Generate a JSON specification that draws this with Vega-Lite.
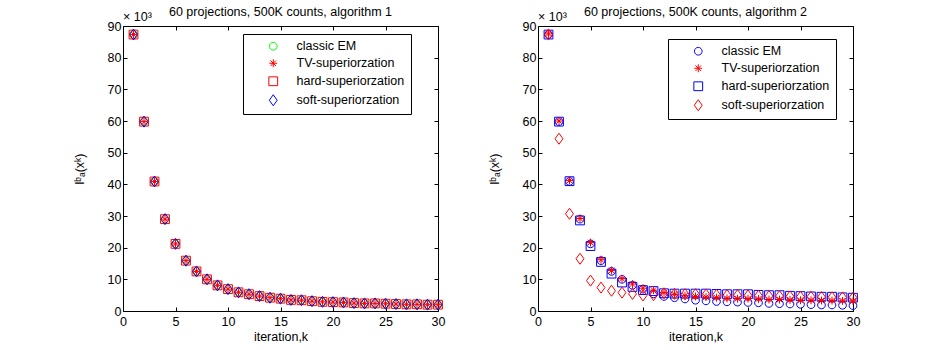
{
  "$schema": "https://vega.github.io/schema/vega-lite/v6.json",
  "background": "white",
  "padding": {"left": 72, "top": 5, "right": 5, "bottom": 5},
  "datasets": {
    "a1": [
      {"k":1,"s":"classic EM","v":87.3},{"k":2,"s":"classic EM","v":59.8},{"k":3,"s":"classic EM","v":40.9},{"k":4,"s":"classic EM","v":29.0},{"k":5,"s":"classic EM","v":21.2},{"k":6,"s":"classic EM","v":15.9},{"k":7,"s":"classic EM","v":12.5},{"k":8,"s":"classic EM","v":10.0},{"k":9,"s":"classic EM","v":8.1},{"k":10,"s":"classic EM","v":6.9},{"k":11,"s":"classic EM","v":5.9},{"k":12,"s":"classic EM","v":5.3},{"k":13,"s":"classic EM","v":4.7},{"k":14,"s":"classic EM","v":4.2},{"k":15,"s":"classic EM","v":3.9},{"k":16,"s":"classic EM","v":3.5},{"k":17,"s":"classic EM","v":3.4},{"k":18,"s":"classic EM","v":3.1},{"k":19,"s":"classic EM","v":2.9},{"k":20,"s":"classic EM","v":2.8},{"k":21,"s":"classic EM","v":2.7},{"k":22,"s":"classic EM","v":2.5},{"k":23,"s":"classic EM","v":2.4},{"k":24,"s":"classic EM","v":2.4},{"k":25,"s":"classic EM","v":2.3},{"k":26,"s":"classic EM","v":2.2},{"k":27,"s":"classic EM","v":2.1},{"k":28,"s":"classic EM","v":2.1},{"k":29,"s":"classic EM","v":2.0},{"k":30,"s":"classic EM","v":2.0},
      {"k":1,"s":"hard-superiorzation","v":87.3},{"k":2,"s":"hard-superiorzation","v":59.8},{"k":3,"s":"hard-superiorzation","v":40.9},{"k":4,"s":"hard-superiorzation","v":29.0},{"k":5,"s":"hard-superiorzation","v":21.2},{"k":6,"s":"hard-superiorzation","v":15.9},{"k":7,"s":"hard-superiorzation","v":12.5},{"k":8,"s":"hard-superiorzation","v":10.0},{"k":9,"s":"hard-superiorzation","v":8.1},{"k":10,"s":"hard-superiorzation","v":6.9},{"k":11,"s":"hard-superiorzation","v":5.9},{"k":12,"s":"hard-superiorzation","v":5.3},{"k":13,"s":"hard-superiorzation","v":4.7},{"k":14,"s":"hard-superiorzation","v":4.2},{"k":15,"s":"hard-superiorzation","v":3.9},{"k":16,"s":"hard-superiorzation","v":3.5},{"k":17,"s":"hard-superiorzation","v":3.4},{"k":18,"s":"hard-superiorzation","v":3.1},{"k":19,"s":"hard-superiorzation","v":2.9},{"k":20,"s":"hard-superiorzation","v":2.8},{"k":21,"s":"hard-superiorzation","v":2.7},{"k":22,"s":"hard-superiorzation","v":2.5},{"k":23,"s":"hard-superiorzation","v":2.4},{"k":24,"s":"hard-superiorzation","v":2.4},{"k":25,"s":"hard-superiorzation","v":2.3},{"k":26,"s":"hard-superiorzation","v":2.2},{"k":27,"s":"hard-superiorzation","v":2.1},{"k":28,"s":"hard-superiorzation","v":2.1},{"k":29,"s":"hard-superiorzation","v":2.0},{"k":30,"s":"hard-superiorzation","v":2.0},
      {"k":1,"s":"soft-superiorzation","v":87.3},{"k":2,"s":"soft-superiorzation","v":59.8},{"k":3,"s":"soft-superiorzation","v":40.9},{"k":4,"s":"soft-superiorzation","v":29.0},{"k":5,"s":"soft-superiorzation","v":21.2},{"k":6,"s":"soft-superiorzation","v":15.9},{"k":7,"s":"soft-superiorzation","v":12.5},{"k":8,"s":"soft-superiorzation","v":10.0},{"k":9,"s":"soft-superiorzation","v":8.1},{"k":10,"s":"soft-superiorzation","v":6.9},{"k":11,"s":"soft-superiorzation","v":5.9},{"k":12,"s":"soft-superiorzation","v":5.3},{"k":13,"s":"soft-superiorzation","v":4.7},{"k":14,"s":"soft-superiorzation","v":4.2},{"k":15,"s":"soft-superiorzation","v":3.9},{"k":16,"s":"soft-superiorzation","v":3.5},{"k":17,"s":"soft-superiorzation","v":3.4},{"k":18,"s":"soft-superiorzation","v":3.1},{"k":19,"s":"soft-superiorzation","v":2.9},{"k":20,"s":"soft-superiorzation","v":2.8},{"k":21,"s":"soft-superiorzation","v":2.7},{"k":22,"s":"soft-superiorzation","v":2.5},{"k":23,"s":"soft-superiorzation","v":2.4},{"k":24,"s":"soft-superiorzation","v":2.4},{"k":25,"s":"soft-superiorzation","v":2.3},{"k":26,"s":"soft-superiorzation","v":2.2},{"k":27,"s":"soft-superiorzation","v":2.1},{"k":28,"s":"soft-superiorzation","v":2.1},{"k":29,"s":"soft-superiorzation","v":2.0},{"k":30,"s":"soft-superiorzation","v":2.0},
      {"k":1,"s":"TV-superiorzation","v":87.3},{"k":2,"s":"TV-superiorzation","v":59.8},{"k":3,"s":"TV-superiorzation","v":40.9},{"k":4,"s":"TV-superiorzation","v":29.0},{"k":5,"s":"TV-superiorzation","v":21.2},{"k":6,"s":"TV-superiorzation","v":15.9},{"k":7,"s":"TV-superiorzation","v":12.5},{"k":8,"s":"TV-superiorzation","v":10.0},{"k":9,"s":"TV-superiorzation","v":8.1},{"k":10,"s":"TV-superiorzation","v":6.9},{"k":11,"s":"TV-superiorzation","v":5.9},{"k":12,"s":"TV-superiorzation","v":5.3},{"k":13,"s":"TV-superiorzation","v":4.7},{"k":14,"s":"TV-superiorzation","v":4.2},{"k":15,"s":"TV-superiorzation","v":3.9},{"k":16,"s":"TV-superiorzation","v":3.5},{"k":17,"s":"TV-superiorzation","v":3.4},{"k":18,"s":"TV-superiorzation","v":3.1},{"k":19,"s":"TV-superiorzation","v":2.9},{"k":20,"s":"TV-superiorzation","v":2.8},{"k":21,"s":"TV-superiorzation","v":2.7},{"k":22,"s":"TV-superiorzation","v":2.5},{"k":23,"s":"TV-superiorzation","v":2.4},{"k":24,"s":"TV-superiorzation","v":2.4},{"k":25,"s":"TV-superiorzation","v":2.3},{"k":26,"s":"TV-superiorzation","v":2.2},{"k":27,"s":"TV-superiorzation","v":2.1},{"k":28,"s":"TV-superiorzation","v":2.1},{"k":29,"s":"TV-superiorzation","v":2.0},{"k":30,"s":"TV-superiorzation","v":2.0}
    ],
    "a2": [
      {"k":1,"s":"classic EM","v":87.3},{"k":2,"s":"classic EM","v":59.8},{"k":3,"s":"classic EM","v":40.9},{"k":4,"s":"classic EM","v":29.0},{"k":5,"s":"classic EM","v":21.2},{"k":6,"s":"classic EM","v":15.9},{"k":7,"s":"classic EM","v":12.5},{"k":8,"s":"classic EM","v":10.0},{"k":9,"s":"classic EM","v":8.1},{"k":10,"s":"classic EM","v":6.9},{"k":11,"s":"classic EM","v":5.4},{"k":12,"s":"classic EM","v":4.6},{"k":13,"s":"classic EM","v":4.2},{"k":14,"s":"classic EM","v":3.8},{"k":15,"s":"classic EM","v":3.4},{"k":16,"s":"classic EM","v":3.2},{"k":17,"s":"classic EM","v":3.0},{"k":18,"s":"classic EM","v":2.9},{"k":19,"s":"classic EM","v":2.8},{"k":20,"s":"classic EM","v":2.7},{"k":21,"s":"classic EM","v":2.6},{"k":22,"s":"classic EM","v":2.4},{"k":23,"s":"classic EM","v":2.3},{"k":24,"s":"classic EM","v":2.2},{"k":25,"s":"classic EM","v":2.1},{"k":26,"s":"classic EM","v":2.0},{"k":27,"s":"classic EM","v":1.9},{"k":28,"s":"classic EM","v":1.9},{"k":29,"s":"classic EM","v":1.8},{"k":30,"s":"classic EM","v":1.7},
      {"k":1,"s":"hard-superiorzation","v":87.3},{"k":2,"s":"hard-superiorzation","v":59.8},{"k":3,"s":"hard-superiorzation","v":41.0},{"k":4,"s":"hard-superiorzation","v":28.6},{"k":5,"s":"hard-superiorzation","v":20.5},{"k":6,"s":"hard-superiorzation","v":15.5},{"k":7,"s":"hard-superiorzation","v":11.8},{"k":8,"s":"hard-superiorzation","v":9.0},{"k":9,"s":"hard-superiorzation","v":7.6},{"k":10,"s":"hard-superiorzation","v":6.6},{"k":11,"s":"hard-superiorzation","v":6.3},{"k":12,"s":"hard-superiorzation","v":5.6},{"k":13,"s":"hard-superiorzation","v":5.5},{"k":14,"s":"hard-superiorzation","v":5.5},{"k":15,"s":"hard-superiorzation","v":5.5},{"k":16,"s":"hard-superiorzation","v":5.5},{"k":17,"s":"hard-superiorzation","v":5.4},{"k":18,"s":"hard-superiorzation","v":5.3},{"k":19,"s":"hard-superiorzation","v":5.3},{"k":20,"s":"hard-superiorzation","v":5.3},{"k":21,"s":"hard-superiorzation","v":5.1},{"k":22,"s":"hard-superiorzation","v":5.0},{"k":23,"s":"hard-superiorzation","v":5.0},{"k":24,"s":"hard-superiorzation","v":4.8},{"k":25,"s":"hard-superiorzation","v":4.7},{"k":26,"s":"hard-superiorzation","v":4.6},{"k":27,"s":"hard-superiorzation","v":4.5},{"k":28,"s":"hard-superiorzation","v":4.5},{"k":29,"s":"hard-superiorzation","v":4.3},{"k":30,"s":"hard-superiorzation","v":4.2},
      {"k":1,"s":"soft-superiorzation","v":87.3},{"k":2,"s":"soft-superiorzation","v":54.4},{"k":3,"s":"soft-superiorzation","v":30.7},{"k":4,"s":"soft-superiorzation","v":16.5},{"k":5,"s":"soft-superiorzation","v":9.6},{"k":6,"s":"soft-superiorzation","v":7.4},{"k":7,"s":"soft-superiorzation","v":6.4},{"k":8,"s":"soft-superiorzation","v":5.8},{"k":9,"s":"soft-superiorzation","v":5.4},{"k":10,"s":"soft-superiorzation","v":4.9},{"k":11,"s":"soft-superiorzation","v":5.0},{"k":12,"s":"soft-superiorzation","v":5.6},{"k":13,"s":"soft-superiorzation","v":5.4},{"k":14,"s":"soft-superiorzation","v":5.3},{"k":15,"s":"soft-superiorzation","v":5.3},{"k":16,"s":"soft-superiorzation","v":5.2},{"k":17,"s":"soft-superiorzation","v":5.1},{"k":18,"s":"soft-superiorzation","v":5.0},{"k":19,"s":"soft-superiorzation","v":5.0},{"k":20,"s":"soft-superiorzation","v":4.9},{"k":21,"s":"soft-superiorzation","v":4.8},{"k":22,"s":"soft-superiorzation","v":4.7},{"k":23,"s":"soft-superiorzation","v":4.7},{"k":24,"s":"soft-superiorzation","v":4.6},{"k":25,"s":"soft-superiorzation","v":4.5},{"k":26,"s":"soft-superiorzation","v":4.5},{"k":27,"s":"soft-superiorzation","v":4.4},{"k":28,"s":"soft-superiorzation","v":4.3},{"k":29,"s":"soft-superiorzation","v":4.3},{"k":30,"s":"soft-superiorzation","v":4.2},
      {"k":1,"s":"TV-superiorzation","v":87.5},{"k":2,"s":"TV-superiorzation","v":60.0},{"k":3,"s":"TV-superiorzation","v":41.2},{"k":4,"s":"TV-superiorzation","v":29.2},{"k":5,"s":"TV-superiorzation","v":21.6},{"k":6,"s":"TV-superiorzation","v":16.2},{"k":7,"s":"TV-superiorzation","v":12.8},{"k":8,"s":"TV-superiorzation","v":10.2},{"k":9,"s":"TV-superiorzation","v":8.5},{"k":10,"s":"TV-superiorzation","v":7.2},{"k":11,"s":"TV-superiorzation","v":6.6},{"k":12,"s":"TV-superiorzation","v":5.8},{"k":13,"s":"TV-superiorzation","v":5.3},{"k":14,"s":"TV-superiorzation","v":4.8},{"k":15,"s":"TV-superiorzation","v":4.6},{"k":16,"s":"TV-superiorzation","v":4.4},{"k":17,"s":"TV-superiorzation","v":4.2},{"k":18,"s":"TV-superiorzation","v":4.0},{"k":19,"s":"TV-superiorzation","v":3.9},{"k":20,"s":"TV-superiorzation","v":3.9},{"k":21,"s":"TV-superiorzation","v":3.8},{"k":22,"s":"TV-superiorzation","v":3.6},{"k":23,"s":"TV-superiorzation","v":3.6},{"k":24,"s":"TV-superiorzation","v":3.5},{"k":25,"s":"TV-superiorzation","v":3.4},{"k":26,"s":"TV-superiorzation","v":3.4},{"k":27,"s":"TV-superiorzation","v":3.3},{"k":28,"s":"TV-superiorzation","v":3.3},{"k":29,"s":"TV-superiorzation","v":3.2},{"k":30,"s":"TV-superiorzation","v":3.2}
    ],
    "m": [{"k":0,"v":90,"t":"× 10³"}]
  },
  "hconcat": [
    {
      "title": {"text": "60 projections, 500K counts, algorithm 1"},
      "width": 315, "height": 285,
      "layer": [
        {
          "data": {"name": "a1"},
          "mark": {"type": "point", "filled": false, "size": 121, "strokeWidth": 1, "opacity": 1},
          "encoding": {
            "x": {"field": "k", "type": "quantitative", "scale": {"domain": [0, 30], "nice": false, "zero": false}, "axis": {"orient": "bottom", "values": [0,5,10,15,20,25,30], "title": "iteration,k"}},
            "y": {"field": "v", "type": "quantitative", "scale": {"domain": [0, 90], "nice": false}, "axis": {"orient": "left", "values": [0,10,20,30,40,50,60,70,80,90], "title": "lᵇₐ(xᵏ)"}},
            "color": {"field": "s", "type": "nominal", "scale": {"domain": ["classic EM","TV-superiorzation","hard-superiorzation","soft-superiorzation"], "range": ["#00ff00","#ff0000","#ff0000","#0000ff"]}, "legend": {"title": null, "legendX": 120, "legendY": 8}},
            "shape": {"field": "s", "type": "nominal", "scale": {"domain": ["classic EM","TV-superiorzation","hard-superiorzation","soft-superiorzation"], "range": ["M-0.7,0A0.7,0.7,0,1,1,0.7,0A0.7,0.7,0,1,1,-0.7,0Z", "M-0.72,0L0.72,0M0,-0.72L0,0.72M-0.51,-0.51L0.51,0.51M-0.51,0.51L0.51,-0.51", "M-0.8,-0.8L0.8,-0.8L0.8,0.8L-0.8,0.8Z", "M-0.72,0L0,-1L0.72,0L0,1Z"]}, "legend": {"title": null, "legendX": 120, "legendY": 8}}
          }
        },
        {
          "data": {"name": "m"},
          "mark": {"type": "text", "align": "left", "baseline": "alphabetic", "dy": -5, "fontSize": 12.5, "font": "Liberation Sans", "color": "black"},
          "encoding": {
            "x": {"field": "k", "type": "quantitative", "scale": {"domain": [0, 30], "nice": false, "zero": false}, "axis": {"orient": "top", "values": [0,5,10,15,20,25,30], "labels": false, "title": null}},
            "y": {"field": "v", "type": "quantitative", "scale": {"domain": [0, 90], "nice": false}, "axis": {"orient": "right", "values": [0,10,20,30,40,50,60,70,80,90], "labels": false, "title": null}},
            "text": {"field": "t"}
          }
        }
      ],
      "resolve": {"axis": {"x": "independent", "y": "independent"}}
    },
    {
      "title": {"text": "60 projections, 500K counts, algorithm 2"},
      "width": 315, "height": 285,
      "layer": [
        {
          "data": {"name": "a2"},
          "mark": {"type": "point", "filled": false, "size": 121, "strokeWidth": 1, "opacity": 1},
          "encoding": {
            "x": {"field": "k", "type": "quantitative", "scale": {"domain": [0, 30], "nice": false, "zero": false}, "axis": {"orient": "bottom", "values": [0,5,10,15,20,25,30], "title": "iteration,k"}},
            "y": {"field": "v", "type": "quantitative", "scale": {"domain": [0, 90], "nice": false}, "axis": {"orient": "left", "values": [0,10,20,30,40,50,60,70,80,90], "title": "lᵇₐ(xᵏ)"}},
            "color": {"field": "s", "type": "nominal", "scale": {"domain": ["classic EM","TV-superiorzation","hard-superiorzation","soft-superiorzation"], "range": ["#0000ff","#ff0000","#0000ff","#ff0000"]}, "legend": {"title": null, "legendX": 130, "legendY": 13}},
            "shape": {"field": "s", "type": "nominal", "scale": {"domain": ["classic EM","TV-superiorzation","hard-superiorzation","soft-superiorzation"], "range": ["M-0.7,0A0.7,0.7,0,1,1,0.7,0A0.7,0.7,0,1,1,-0.7,0Z", "M-0.72,0L0.72,0M0,-0.72L0,0.72M-0.51,-0.51L0.51,0.51M-0.51,0.51L0.51,-0.51", "M-0.8,-0.8L0.8,-0.8L0.8,0.8L-0.8,0.8Z", "M-0.72,0L0,-1L0.72,0L0,1Z"]}, "legend": {"title": null, "legendX": 130, "legendY": 13}}
          }
        },
        {
          "data": {"name": "m"},
          "mark": {"type": "text", "align": "left", "baseline": "alphabetic", "dy": -5, "fontSize": 12.5, "font": "Liberation Sans", "color": "black"},
          "encoding": {
            "x": {"field": "k", "type": "quantitative", "scale": {"domain": [0, 30], "nice": false, "zero": false}, "axis": {"orient": "top", "values": [0,5,10,15,20,25,30], "labels": false, "title": null}},
            "y": {"field": "v", "type": "quantitative", "scale": {"domain": [0, 90], "nice": false}, "axis": {"orient": "right", "values": [0,10,20,30,40,50,60,70,80,90], "labels": false, "title": null}},
            "text": {"field": "t"}
          }
        }
      ],
      "resolve": {"axis": {"x": "independent", "y": "independent"}}
    }
  ],
  "spacing": 100,
  "bounds": "flush",
  "resolve": {"scale": {"color": "independent", "shape": "independent"}, "legend": {"color": "independent", "shape": "independent"}},
  "config": {
    "font": "Liberation Sans",
    "view": {"stroke": "black", "strokeWidth": 1},
    "axis": {"domain": false, "grid": false, "tickColor": "black", "tickSize": -4, "tickWidth": 1, "labelColor": "black", "labelFontSize": 12.5, "labelFont": "Liberation Sans", "labelFlush": false, "labelOverlap": false, "titleFont": "Liberation Sans", "titleFontSize": 12.5, "titleFontWeight": "normal", "titleColor": "black"},
    "axisX": {"labelPadding": 8, "titlePadding": 3},
    "axisY": {"labelPadding": 6, "titlePadding": 21},
    "title": {"fontSize": 12.5, "fontWeight": "normal", "font": "Liberation Sans", "color": "black", "offset": -7.5, "frame": "group"},
    "legend": {"orient": "none", "strokeColor": "black", "fillColor": "white", "padding": 6, "labelFont": "Liberation Sans", "labelFontSize": 12.5, "labelColor": "black", "symbolStrokeWidth": 1, "symbolSize": 121, "rowPadding": 4, "symbolOffset": 18, "labelOffset": 17, "cornerRadius": 0}
  }
}
